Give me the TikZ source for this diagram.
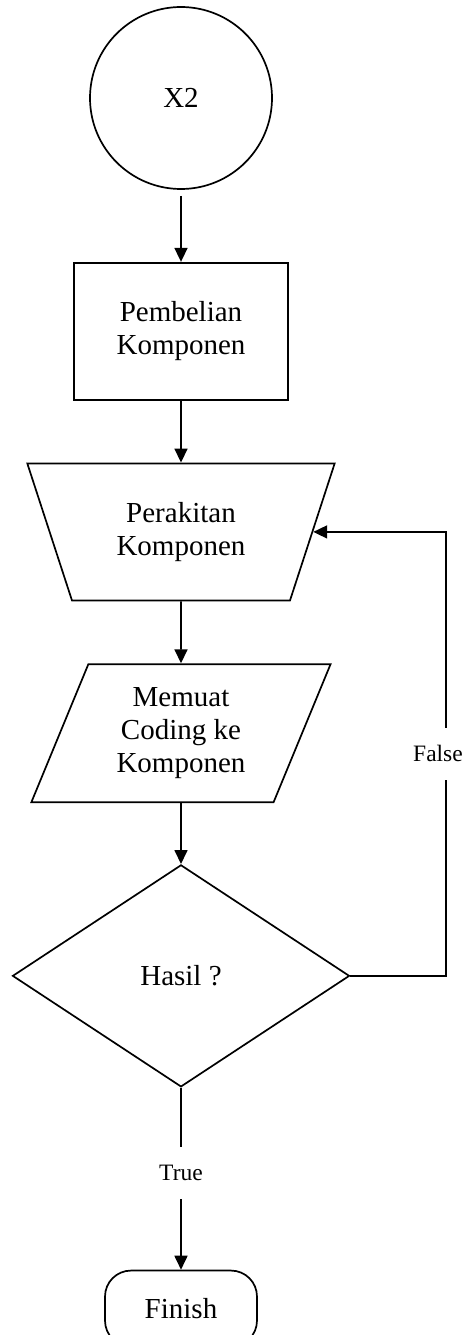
\documentclass[tikz,border=0pt]{standalone}
\usepackage{fontspec}
\setmainfont{Liberation Serif}
\usetikzlibrary{arrows.meta,positioning,shapes.geometric}

\begin{document}
\begin{tikzpicture}[
    x=1pt, y=1pt,
    node distance=62pt,
    every node/.style={font=\fontsize{29}{33}\selectfont},
    base/.style={draw, line width=1.7pt, align=center, inner sep=0pt},
    startnode/.style={base, circle, minimum size=182pt},
    process/.style={base, rectangle, minimum width=214pt, minimum height=137pt},
    manual/.style={base, trapezium, trapezium left angle=66, trapezium right angle=66, shape border rotate=180, trapezium stretches=true, minimum width=308pt, minimum height=137pt},
    inout/.style={base, trapezium, trapezium left angle=66.5, trapezium right angle=113.5, trapezium stretches=true, minimum width=300pt, minimum height=138pt},
    decision/.style={base, diamond, minimum width=337pt, minimum height=222pt},
    terminal/.style={base, rectangle, rounded corners=26pt, minimum width=152pt, minimum height=76pt},
    flow/.style={-{Triangle[length=14pt, width=13pt]}, line width=1.7pt},
    lbl/.style={fill=white, font=\fontsize{23.5}{26}\selectfont, inner xsep=2pt, minimum height=52pt}
]
\useasboundingbox (0,0) rectangle (464,-1335);
\node[startnode] (x2) at (181,-98) {X2};
\node[process, below=72pt of x2] (beli) {Pembelian\\Komponen};
\node[manual, below=of beli] (rakit) {Perakitan\\Komponen};
\node[inout, below=of rakit] (coding) {Memuat\\Coding ke\\Komponen};
\node[decision, below=61pt of coding] (hasil) {Hasil ?};
\node[terminal, below=182pt of hasil] (finish) {Finish};
\coordinate (rightx) at (446,0);
\coordinate (back) at (rakit.east -| rightx);
\draw[flow, shorten <=6pt] (x2) -- (beli);
\draw[flow] (beli) -- (rakit);
\draw[flow] (rakit) -- (coding);
\draw[flow] (coding) -- (hasil);
\draw[flow] (hasil) -- node[lbl, pos=0.47] (truelbl) {True} (finish);
\draw[flow] (hasil.east) -| node[lbl, pos=0.75, xshift=-8pt] (falselbl) {False} (back) -- (rakit.east);
\end{tikzpicture}
\end{document}
